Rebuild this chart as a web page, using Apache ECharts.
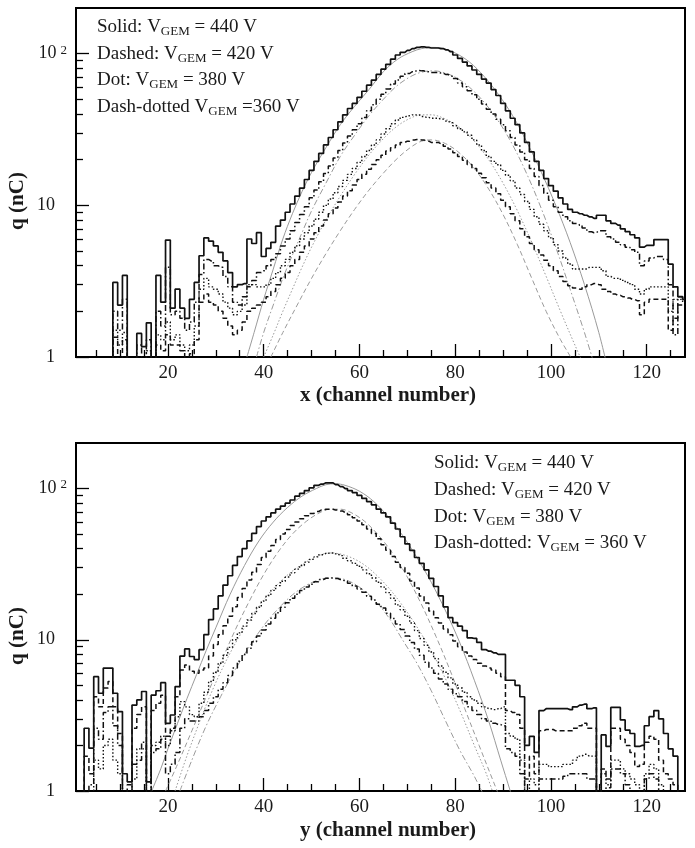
<!DOCTYPE html>
<html><head><meta charset="utf-8">
<script src="https://cdn.jsdelivr.net/npm/echarts@6/dist/echarts.min.js"></script>
<style>html,body{margin:0;padding:0;background:#fff}#c{width:695px;height:848px}</style>
</head><body><div id="c"></div>
<script>
// ---------- data ----------
const channels = [];
for (let c = 1; c <= 128; c++) channels.push(c);

const xTickLabels = [20, 40, 60, 80, 100, 120];
const xMinorTicks = [5, 10, 15, 25, 30, 35, 45, 50, 55, 65, 70, 75, 85, 90, 95, 105, 110, 115, 125];
const yTickLabels = [1, 10, 100];
const yMinorTicks = [2, 3, 4, 5, 6, 7, 8, 9, 20, 30, 40, 50, 60, 70, 80, 90];

// top panel (x channel) histograms, channels 1..128 (0.1 = empty bin, below the axis)
const topSolid440 = [
0.1,0.1,0.1,0.1,0.1,0.1,0.1,0.1,3.1,2.2,
3.45,0.1,0.1,1.43,1.17,1.68,0.1,3.45,2.3,5.9,
2.1,2.8,2.1,1.8,2.4,3.1,4.65,6.1,5.8,5.4,
4.9,4.3,3.6,2.9,3.0,3.05,6.0,5.6,6.6,4.6,
5.2,5.7,7.3,8.0,9.0,10.2,11.5,13,14.8,17,
19.5,22,25,28,31.5,35.5,39.5,43.5,47,51.5,
56.5,62,67,73,79,85,92,98,102,105,
108,110,111,110,109,109,108,106,103,98,
93,88,83,78,73,68,64,58,53,47,
42,37.5,34,30,26,22.5,19.5,17,15,13.5,
12.4,11.2,10.2,9.4,9.0,8.8,8.6,8.4,8.2,8.6,
8.6,7.9,7.6,7.4,7.0,6.7,6.4,6.1,5.3,5.45,
5.45,5.95,5.95,5.95,4.1,2.9,2.5,2.4];
const topDashed420 = [
0.1,0.1,0.1,0.1,0.1,0.1,0.1,0.1,2.0,1.5,
2.4,0.1,0.1,1.2,0.1,1.3,0.1,2.0,1.6,3.9,
1.9,2.0,1.8,1.5,1.7,2.3,3.5,4.4,4.3,4.0,
3.9,3.4,2.9,2.3,2.2,2.5,2.9,3.2,3.6,3.7,
4.0,4.4,4.8,5.4,6.0,6.8,7.7,8.7,9.8,11.2,
12.6,14.3,16.2,18.2,20.5,23,25.8,28.6,31.5,34.5,
38,42,46,50,54,58.5,63,67,71,74,
76,77.5,77,76,75,75,74.5,73,71,68.5,
64,60.5,57,53.5,50,46.5,43,40,37,34,
31,28,25,22.5,20,17.5,15.5,13.5,12,10.8,
9.8,9.0,8.4,7.9,7.6,7.4,7.1,6.7,6.6,6.8,
6.8,6.2,6.0,5.7,5.5,5.3,5.1,4.9,4.0,4.3,
4.5,4.6,4.6,4.4,3.0,1.4,2.5,2.4];
const topDot380 = [
0.1,0.1,0.1,0.1,0.1,0.1,0.1,0.1,1.5,1.2,
1.45,0.1,0.1,0.1,0.1,1.1,0.1,1.4,1.3,1.7,
1.3,1.4,1.2,1.1,1.2,1.6,2.8,3.3,2.9,2.8,
2.6,2.3,2.1,1.9,2.0,2.2,3.0,3.0,2.9,2.9,
3.0,3.3,3.6,4.0,4.4,4.9,5.4,6.0,6.6,7.3,
8.1,9.0,10.0,11.0,12.1,13.3,14.6,16.0,17.5,19.2,
21,23,25,27,29.5,32,34.5,36.5,38,39,
39.5,39.5,38.5,38,37.5,37.5,37,36,35,33.5,
32,30.5,29,27,25,23,21,19.5,18.5,17,
15.8,14.5,13,11.8,10.6,9.4,8.4,7.5,6.8,6.1,
5.5,5.0,4.5,4.1,3.8,3.8,3.8,3.9,3.9,3.9,
3.7,3.4,3.3,3.3,3.2,3.1,3.0,2.8,2.6,2.8,
2.9,2.9,2.9,2.9,2.0,2.4,2.4,2.3];
const topDashDot360 = [
0.1,0.1,0.1,0.1,0.1,0.1,0.1,0.1,1.35,0.1,
1.3,0.1,0.1,0.1,0.1,0.1,0.1,1.2,1.1,1.4,
1.2,1.2,1.1,0.1,1.05,1.3,2.3,2.6,2.3,2.2,
2.0,1.8,1.6,1.4,1.5,1.7,2.0,2.1,2.2,2.3,
2.5,2.7,3.0,3.3,3.6,4.0,4.4,4.9,5.4,6.0,
6.6,7.3,8.0,8.8,9.6,10.5,11.5,12.5,13.6,14.8,
16,17.3,18.6,20,21.4,22.8,24,25,26,26.5,
27,27.2,27,26.5,26,26,25.5,24.5,23.5,22.2,
21,19.8,18.6,17.5,16.3,15.2,14.1,13,11.9,10.8,
9.8,8.8,7.9,7.0,6.2,5.6,5.1,4.7,4.35,4.0,
3.7,3.4,3.15,2.95,2.85,2.8,2.9,3.0,3.05,3.0,
2.8,2.7,2.6,2.55,2.5,2.45,2.4,2.35,1.9,2.3,
2.4,2.4,2.4,2.4,1.5,1.8,2.2,2.2];

// bottom panel (y channel) histograms
const botSolid440 = [
0.1,0.1,2.6,1.92,5.7,4.43,6.5,6.5,4.43,3.35,
1.3,1.15,3.7,4.0,4.55,1.15,4.3,4.6,5.2,2.8,
3.18,4.9,7.8,8.7,7.75,7.4,8.6,10.8,13.6,16,
19.5,23,26.5,31,35.5,40,45,50.5,56,61,
65,69,73,76.5,80,84,89,93,97,101,
105,107,109,109,106,103,100,97,94,90,
86,82,78,73,69,65,59,54,48,43,
39,35,32,29,25.5,22.5,19.5,16.5,14,13,
12.3,11.5,10.3,10.2,9.6,8.6,8.4,8.2,8.0,8.0,
5.4,5.4,5.0,4.2,2.0,2.3,1.8,3.4,3.5,3.5,
3.5,3.5,3.5,3.45,3.6,3.7,3.75,3.5,3.55,0.1,
2.35,1.97,3.57,3.57,2.95,2.53,2.4,1.97,2.0,2.7,
3.1,3.4,3.0,2.4,1.9,1.7,0.1,0.1];
const botDashed420 = [
0.1,0.1,1.7,1.3,4.2,3.6,4.8,5.3,3.6,2.4,
0.1,1.1,2.6,3.2,3.6,0.1,3.4,3.8,4.3,2.3,
2.6,4.2,6.3,6.8,6.2,6.0,6.3,6.5,7.8,9.3,
10.8,12.4,14.3,16.5,19,21.8,24.8,28,31.5,35,
38.5,42,46,50,53.5,57,60,63,66,68.5,
70.5,72,73,73,72,71,69.5,67,64,61,
57.5,54,50.5,46.5,42.5,39,35.5,32.5,30,27.5,
24.5,22,19.5,17.5,15.5,14,12.9,11.8,10.8,9.8,
9.0,8.3,7.8,7.4,7.0,6.7,6.5,6.3,6.0,5.7,
3.4,3.3,3.2,2.6,1.2,1.7,1.3,2.5,2.55,2.55,
2.5,2.5,2.5,2.5,2.6,2.7,2.8,2.6,2.6,0.1,
1.4,1.2,2.6,2.6,2.2,2.0,1.8,1.45,1.5,2.1,
2.3,2.2,1.6,1.3,1.2,1.1,0.1,0.1];
const botDot380 = [
0.1,0.1,0.1,0.1,1.6,1.4,2.0,2.2,1.6,1.3,
0.1,0.1,1.2,1.9,1.9,0.1,2.0,2.1,2.3,2.0,
2.5,3.1,3.9,3.6,3.2,3.1,3.8,4.5,5.3,6.1,
7.0,7.9,8.9,10.0,11.1,12.3,13.5,14.9,16.4,18,
19.6,21.2,22.8,24.4,26,27.7,29.3,31,32.6,34,
35.3,36.5,37.3,37.5,37,36,34.6,33.3,32,30.6,
29,27.3,25.6,24,22.3,20.5,18.8,17,15.8,14.3,
12.9,11.5,10.2,9.2,8.3,7.5,6.7,6.1,5.6,5.1,
4.8,4.5,4.2,4.0,3.8,3.6,3.5,3.45,3.5,3.6,
2.4,2.3,2.2,1.6,1.0,1.2,1.1,1.5,1.5,1.45,
1.45,1.45,1.5,1.5,1.6,1.7,1.75,1.7,1.7,0.1,
1.3,1.1,1.6,1.6,1.4,1.3,1.2,1.1,0.1,1.3,
1.5,1.4,1.1,0.1,0.1,0.1,0.1,0.1];
const botDashDot360 = [
0.1,0.1,0.1,1.1,2.6,2.2,3.3,3.6,2.7,2.0,
0.1,0.1,1.5,1.6,2.1,0.1,1.8,1.9,2.2,1.3,
1.5,1.8,2.6,3.0,2.9,2.9,3.1,3.4,3.8,4.2,
4.7,5.2,5.8,6.5,7.2,8.0,8.8,9.7,10.6,11.6,
12.7,13.9,15.1,16.4,17.6,18.8,20,21.2,22.3,23.3,
24.2,25,25.5,25.6,25.4,25,24.4,23.6,22.7,21.7,
20.6,19.4,18.3,17.2,16.2,15,13.8,12.7,11.7,10.6,
9.6,8.7,7.9,7.1,6.5,6.0,5.5,5.1,4.7,4.4,
4.2,3.9,3.6,3.4,3.2,3.0,2.9,2.8,2.75,2.7,
1.9,1.8,1.7,1.3,0.1,0.1,0.1,1.2,1.2,1.2,
1.2,1.2,1.25,1.3,1.3,1.3,1.3,1.2,1.2,0.1,
0.1,1.05,1.4,1.4,1.3,1.1,0.1,0.1,0.1,1.2,
1.3,1.2,0.1,0.1,0.1,0.1,0.1,0.1];

// fitted curves: [channel, q]
const topFit440 = [[36.5,1],[38,1.45],[40,2.4],[42,3.8],[44,6],[46,8.8],[48,12.3],[50,16.5],[53,24],[56,34],[59,45],[62,58],[65,76],[68,92],[71,103],[73,108],[75,110],[77,109],[80,101],[83,88],[86,71],[89,54],[92,39],[95,26],[98,16.5],[101,10],[104,5.7],[107,3.0],[110,1.45],[112,0.8]];
const topFit420 = [[38.5,1],[40,1.45],[42,2.2],[44,3.3],[46,4.7],[48,6.6],[50,9.2],[53,14],[56,21],[59,29],[62,39],[65,50],[68,62],[71,71.5],[73,75.5],[75,77],[77,76],[80,70],[83,60],[86,48],[89,36],[92,25],[95,16],[98,9.5],[101,5.3],[104,2.8],[107,1.45],[109.5,0.8]];
const topFit380 = [[40,1],[42,1.4],[44,2.0],[46,2.8],[48,3.9],[50,5.3],[53,8],[56,11.5],[59,16],[62,21.5],[65,27.5],[68,33.5],[71,38],[73,39.5],[75,39.5],[78,37],[81,32.5],[84,26.5],[87,20],[90,14],[93,9.2],[96,5.7],[99,3.4],[102,2.0],[105,1.2],[107.5,0.8]];
const topFit360 = [[41.5,1],[44,1.45],[47,2.2],[50,3.3],[53,4.8],[56,6.8],[59,9.4],[62,12.6],[65,16.3],[68,20.5],[71,24.5],[73,26.5],[75,27],[78,25.5],[81,22],[84,17.5],[87,12.8],[90,8.7],[93,5.5],[96,3.3],[99,2.0],[102,1.3],[104.5,0.95],[106.5,0.7]];
const botFit440 = [[16.6,1],[18.5,1.4],[20,1.9],[22,2.8],[24,4.1],[26,5.9],[28,8.5],[30,12],[33,20],[36,31],[39,45],[42,60],[45,75],[48,89],[51,100],[53,106],[55,107.5],[57,105],[60,96],[63,82],[66,65],[69,49],[72,35],[75,24],[78,15.5],[81,9.5],[84,5.4],[87,2.9],[89.5,1.6],[91.5,1.0],[93,0.7]];
const botFit420 = [[19.5,1],[22,1.5],[25,2.5],[28,4.2],[31,7],[34,11.5],[37,18],[40,27],[43,38],[46,50],[49,61],[52,70],[54,73],[56,73],[58,70],[61,61],[64,49],[67,37],[70,26],[73,17],[76,10.5],[79,6.2],[82,3.5],[85,2.0],[88,1.15],[90,0.8]];
const botFit380 = [[21.5,1],[24.5,1.9],[29.5,4.8],[34.5,10],[39.5,17.5],[44.5,26],[49.5,33.5],[54,37.5],[59.5,33.5],[64.5,25],[69.5,16],[74.5,9.0],[78,5.5],[81,3.4],[84,2.0],[86.5,1.3],[88.5,0.85]];
const botFit360 = [[22.5,1],[25,1.6],[28,2.7],[31,4.2],[34,6.3],[37,9],[40,12.4],[43,16],[46,19.8],[49,23],[52,25.2],[54,25.7],[57,25],[60,22.3],[63,18.5],[66,14.2],[69,10],[72,7.0],[75,4.6],[78,2.9],[81,1.85],[84,1.25],[87,0.8]];

const legendTopPrefix = ['Solid: V', 'Dashed: V', 'Dot: V', 'Dash-dotted V'];
const legendTopSuffix = [' = 440 V', ' = 420 V', ' = 380 V', ' =360 V'];
const legendBotPrefix = ['Solid: V', 'Dashed: V', 'Dot: V', 'Dash-dotted: V'];
const legendBotSuffix = [' = 440 V', ' = 420 V', ' = 380 V', ' = 360 V'];
const subscript = 'GEM';

// ---------- build ----------
const FONT = 'Liberation Serif';
const TICK_W = 1.3;
const dashStyle = { solid: 'solid', dashed: [5, 3], dotted: [1.5, 2], dashdot: [6, 2.5, 1.5, 2.5] };

function histData(vals) { return vals.map((v, i) => [channels[i], v]); }
function histSeries(vals, dash, xi, yi, w) {
  return { type: 'line', data: histData(vals), step: 'middle', xAxisIndex: xi, yAxisIndex: yi,
    symbol: 'none', clip: true, z: 3,
    lineStyle: { color: '#111', width: w, type: dashStyle[dash] } };
}
// fits are drawn on the second (identical-range) axis pair of each panel
function fitSeries(pts, dash, xi, yi) {
  return { type: 'line', data: pts, smooth: 0.35, xAxisIndex: xi, yAxisIndex: yi,
    symbol: 'none', clip: true, z: 2,
    lineStyle: { color: '#9a9a9a', width: 1, type: dashStyle[dash] } };
}

const grids = [
  { left: 76, top: 8, width: 609, height: 349 },
  { left: 76, top: 443, width: 609, height: 348 }
].map(g => Object.assign(g, { show: true, borderColor: '#000', borderWidth: 2, backgroundColor: 'transparent' }));

function xMain(gi) {
  return { type: 'value', gridIndex: gi, min: 0.8, max: 128, position: 'bottom',
    axisLine: { show: true, onZero: false, lineStyle: { color: '#000', width: 2 } },
    axisTick: { show: true, inside: true, length: 13, customValues: xTickLabels, lineStyle: { color: '#000', width: TICK_W } },
    axisLabel: { customValues: xTickLabels, color: '#1a1a1a', fontSize: 19, fontFamily: FONT, margin: 7 },
    splitLine: { show: false } };
}
function xMinor(gi) {
  return { type: 'value', gridIndex: gi, min: 0.8, max: 128, position: 'bottom',
    axisLine: { show: false, onZero: false },
    axisTick: { show: true, inside: true, length: 7, customValues: xMinorTicks, lineStyle: { color: '#000', width: TICK_W } },
    axisLabel: { show: false }, splitLine: { show: false } };
}
function yMain(gi) {
  return { type: 'log', logBase: 10, gridIndex: gi, min: 1, max: 200, position: 'left',
    axisLine: { show: true, lineStyle: { color: '#000', width: 2 } },
    axisTick: { show: true, inside: true, length: 13, customValues: yTickLabels, lineStyle: { color: '#000', width: TICK_W } },
    axisLabel: { customValues: yTickLabels, margin: 9, color: '#1a1a1a',
      formatter: function (v) { const r = Math.round(v); return r === 100 ? '{a|10}{b|2}' : '{c|' + r + '}'; },
      rich: { a: { fontSize: 18, fontFamily: FONT, color: '#1a1a1a', lineHeight: 20 },
              c: { fontSize: 18, fontFamily: FONT, color: '#1a1a1a', lineHeight: 20, padding: [0, 12, 0, 0] },
              b: { fontSize: 13, fontFamily: FONT, color: '#1a1a1a', lineHeight: 8, verticalAlign: 'top', padding: [0, 0, 0, 4] } } },
    splitLine: { show: false } };
}
function yMinor(gi) {
  return { type: 'log', logBase: 10, gridIndex: gi, min: 1, max: 200, position: 'left',
    axisLine: { show: false },
    axisTick: { show: true, inside: true, length: 7, customValues: yMinorTicks, lineStyle: { color: '#000', width: TICK_W } },
    axisLabel: { show: false }, splitLine: { show: false } };
}

const series = [
  fitSeries(topFit440, 'solid', 1, 1), fitSeries(topFit420, 'dashdot', 1, 1),
  fitSeries(topFit380, 'dotted', 1, 1), fitSeries(topFit360, 'dashed', 1, 1),
  histSeries(topDot380, 'dotted', 0, 0, 1.4), histSeries(topDashDot360, 'dashed', 0, 0, 1.5),
  histSeries(topDashed420, 'dashdot', 0, 0, 1.5), histSeries(topSolid440, 'solid', 0, 0, 1.7),
  fitSeries(botFit440, 'solid', 3, 3), fitSeries(botFit420, 'dashed', 3, 3),
  fitSeries(botFit380, 'dotted', 3, 3), fitSeries(botFit360, 'dashdot', 3, 3),
  histSeries(botDot380, 'dotted', 2, 2, 1.4), histSeries(botDashDot360, 'dashdot', 2, 2, 1.5),
  histSeries(botDashed420, 'dashed', 2, 2, 1.5), histSeries(botSolid440, 'solid', 2, 2, 1.7)
];

const richLegend = {
  t: { fontSize: 19, fontFamily: FONT, fill: '#1a1a1a', lineHeight: 22 },
  s: { fontSize: 13, fontFamily: FONT, fill: '#1a1a1a', lineHeight: 8, verticalAlign: 'bottom' }
};
function legendText(x, y, pre, suf) {
  return { type: 'text', x: x, y: y, z: 10,
    style: { text: '{t|' + pre + '}{s|' + subscript + '}{t|' + suf + '}', rich: richLegend,
      verticalAlign: 'middle', align: 'left', fill: '#1a1a1a' } };
}
const graphics = [];
const topLegendY = [27, 54, 80, 107];
const botLegendY = [463, 490, 517, 543];
for (let i = 0; i < 4; i++) {
  graphics.push(legendText(97, topLegendY[i], legendTopPrefix[i], legendTopSuffix[i]));
  graphics.push(legendText(434, botLegendY[i], legendBotPrefix[i], legendBotSuffix[i]));
}
function title(x, y, text, rot) {
  return { type: 'text', x: x, y: y, rotation: rot || 0, z: 10,
    style: { text: text, font: 'bold 21px "' + FONT + '"', fill: '#1a1a1a', align: 'center', verticalAlign: 'middle' } };
}
graphics.push(title(388, 396, 'x (channel number)'));
graphics.push(title(388, 831, 'y (channel number)'));
graphics.push(title(18, 201, 'q (nC)', Math.PI / 2));
graphics.push(title(18, 636, 'q (nC)', Math.PI / 2));

const chart = echarts.init(document.getElementById('c'), null, { renderer: 'canvas' });
chart.setOption({
  animation: false,
  backgroundColor: '#fff',
  grid: grids,
  xAxis: [xMain(0), xMinor(0), xMain(1), xMinor(1)],
  yAxis: [yMain(0), yMinor(0), yMain(1), yMinor(1)],
  series: series,
  graphic: graphics
});
</script></body></html>
